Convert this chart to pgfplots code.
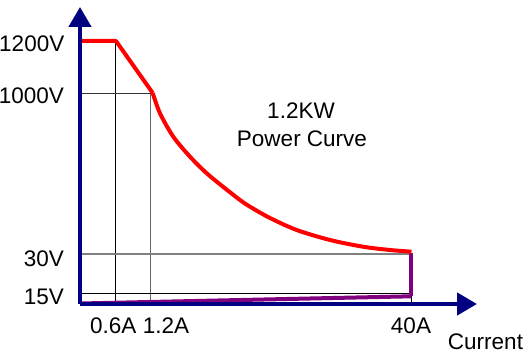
\documentclass[border=0pt]{standalone}
\usepackage{pgfplots}
\pgfplotsset{compat=1.18}
\usepackage{fontspec}
\setmainfont{Liberation Sans}
\usetikzlibrary{arrows.meta}
\definecolor{axnavy}{HTML}{000080}
\definecolor{purp}{HTML}{800080}
\begin{document}
\fontsize{22.5bp}{27bp}\selectfont
\begin{tikzpicture}
\begin{axis}[
  scale only axis, width=397bp, height=297bp,
  xmin=0, xmax=397, ymin=0, ymax=297,
  axis lines=left,
  axis line style={axnavy, line width=4.5bp, -{Triangle[width=22bp,length=20bp]}},
  xtick=\empty, ytick=\empty,
  clip=false, axis on top,
  every node/.style={font=\fontsize{22.5bp}{27bp}\selectfont, inner sep=0pt},
]
% grid lines
\addplot[black, line width=1bp] coordinates {(35.3,2) (35.3,263)};
\addplot[black!60, line width=1bp] coordinates {(70.7,2) (70.7,210.7)};
\addplot[black!80, line width=1bp] coordinates {(0,210.7) (70.7,210.7)};
\addplot[gray, line width=1.2bp] coordinates {(0,50) (331.5,50)};
\addplot[black, line width=1bp] coordinates {(0,10.7) (331.5,10.7)};
\addplot[black, line width=1bp] coordinates {(331.5,2) (331.5,10.7)};
% purple
\addplot[purp, line width=4bp] coordinates {(0,0.5) (331.3,7.7)};
\addplot[purp, line width=4bp] coordinates {(331.3,51.5) (331.3,7.7)};
% red power curve
\addplot[red, line width=4bp, line join=round] coordinates {(0,263) (36,263) (72.7,211)};
\addplot[red, line width=4bp, smooth] coordinates {
 (72.7,211) (80,190.7) (93.3,167.3) (110,147.3) (126.7,130.7) (143,117.3)
 (160,104) (170,97.3) (190,86) (216.7,74) (250,64) (283,57.3) (310,54) (331.5,52.3)};
% labels
\node[anchor=east] at (axis cs:-8,260) {1200V};
\node[anchor=east] at (axis cs:-8.3,208) {1000V};
\node[anchor=east] at (axis cs:-8.3,45) {30V};
\node[anchor=east] at (axis cs:-8.3,7.3) {15V};
\node at (axis cs:33.3,-22) {0.6A};
\node at (axis cs:86,-22) {1.2A};
\node at (axis cs:331,-22) {40A};
\node at (axis cs:405.5,-37.5) {Current};
\node at (axis cs:221,193) {1.2KW};
\node at (axis cs:222,165.5) {Power Curve};
\coordinate (bl) at (axis cs:-80,-55);
\coordinate (tr) at (axis cs:449,304);
\end{axis}
\pgfresetboundingbox
\path[use as bounding box] (bl) rectangle (tr);
\end{tikzpicture}
\end{document}
